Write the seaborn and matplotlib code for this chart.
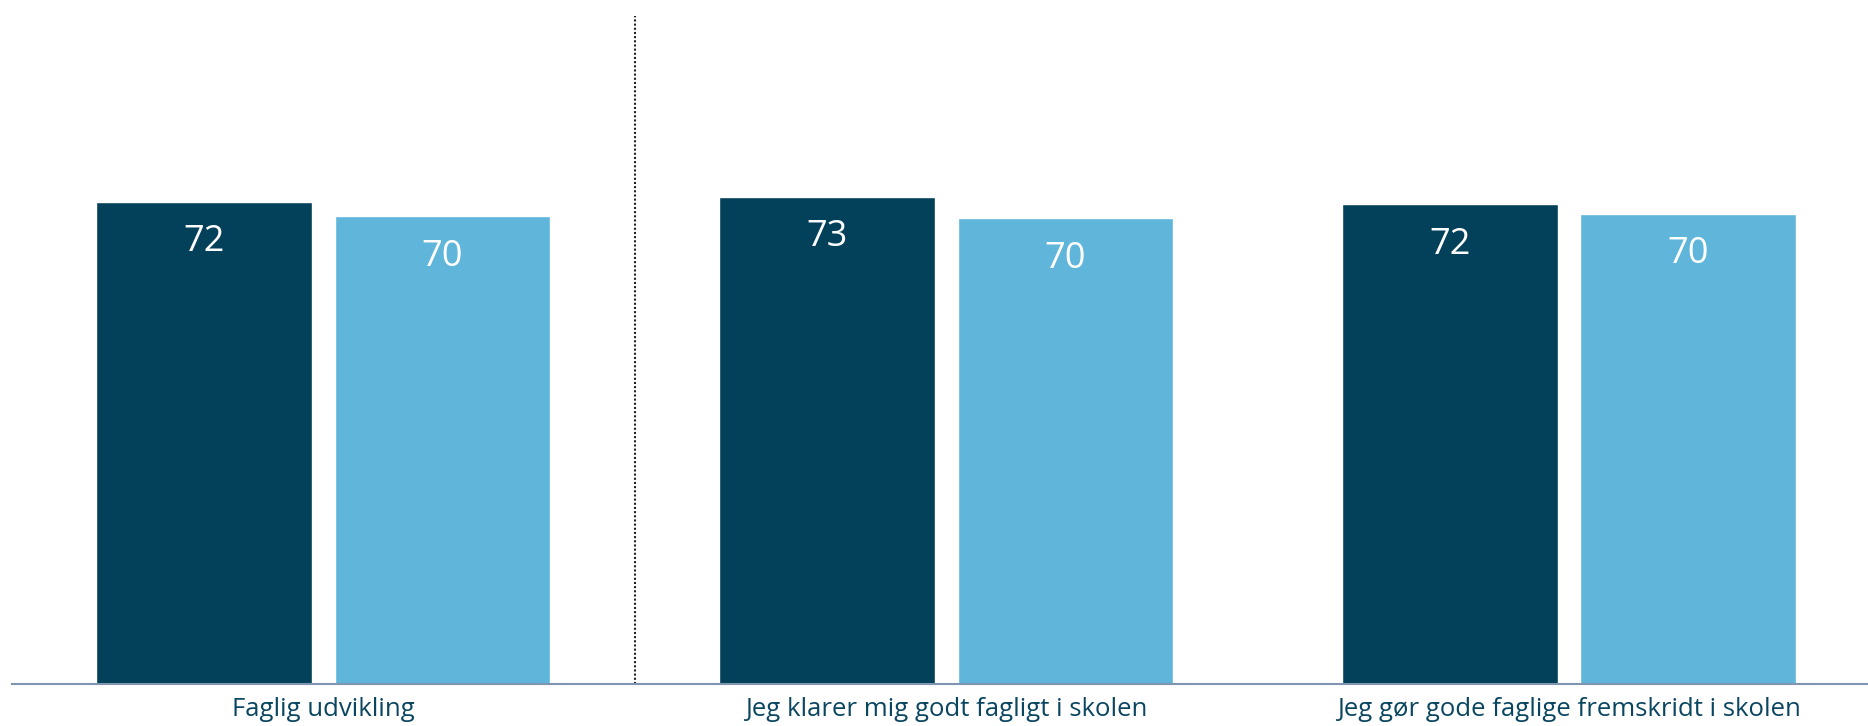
import numpy as np
import pandas as pd
import matplotlib
matplotlib.use("Agg")
import matplotlib.pyplot as plt
import seaborn as sns

# Data
categories = ["Faglig udvikling", "Jeg klarer mig godt fagligt i skolen",
              "Jeg gør gode faglige fremskridt i skolen"]
series_names = ["Skolen", "Landsplan"]
values_school = [72.2, 72.9, 71.8]
values_country = [70.0, 69.7, 70.4]

dark = "#03405a"
light = "#5fb5da"
text_col = "#0b4661"

sns.set_theme(style="white")
plt.rcParams["font.family"] = ["Open Sans", "DejaVu Sans"]

df = pd.DataFrame({
    "kategori": categories * 2,
    "serie": [series_names[0]] * 3 + [series_names[1]] * 3,
    "score": values_school + values_country,
})

fig = plt.figure(figsize=(18.68, 7.26), dpi=100)
ax = fig.add_axes([12 / 1868, 1 - 684 / 726, 1 - 12 / 1868, (684 - 16) / 726])

sns.barplot(data=df, x="kategori", y="score", hue="serie",
            palette=[dark, light], width=0.765, gap=0.095,
            saturation=1, ax=ax, legend=False, errorbar=None)

for cont in ax.containers:
    labels = [f"{v:.0f}" for v in cont.datavalues]
    ax.bar_label(cont, labels=labels, label_type="edge", padding=-42,
                 color="white", fontsize=26)

# dotted separator after the first group
ax.axvline(0.5, color="#222222", linestyle=(0, (1, 1)), linewidth=1.5)

ax.set_ylim(0, 100)
ax.set_xlim(-0.5, 2.48)
ax.set_xlabel("")
ax.set_ylabel("")
ax.set_yticks([])
for side in ["top", "left", "right"]:
    ax.spines[side].set_visible(False)
ax.spines["bottom"].set_color("#7f95b0")
ax.spines["bottom"].set_linewidth(1.5)
ax.tick_params(axis="x", length=0, pad=9, labelsize=18.5, colors=text_col)

fig.savefig("out.png", dpi=100)
